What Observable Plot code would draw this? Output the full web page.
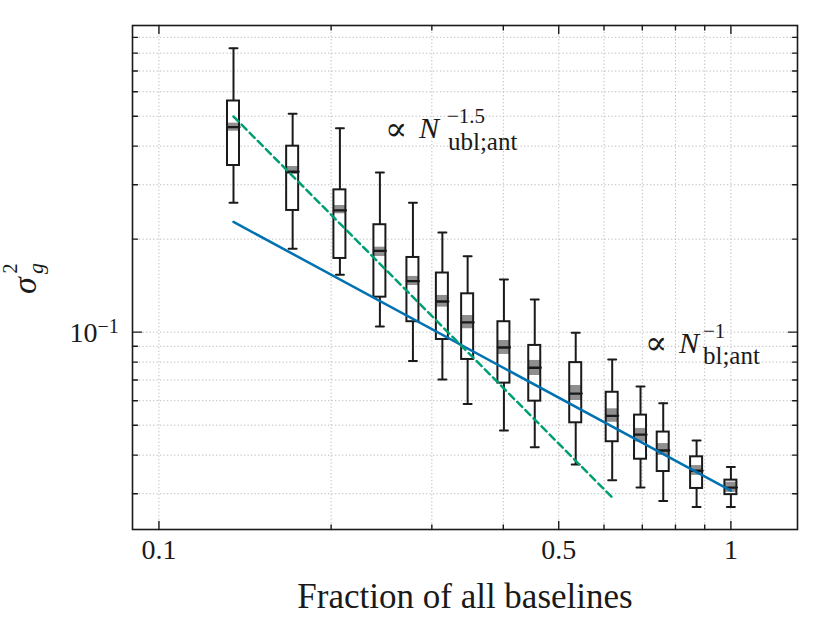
<!DOCTYPE html>
<html><head><meta charset="utf-8">
<script src="https://cdn.jsdelivr.net/npm/d3@7"></script>
<script src="https://cdn.jsdelivr.net/npm/@observablehq/plot@0.6"></script>
<style>body{margin:0;background:#fff}</style>
</head><body><div id="chart"></div>
<script>
// ---- data ----
const fraction  = [0.135, 0.1713, 0.2072, 0.2434, 0.278, 0.313, 0.3465, 0.401, 0.454, 0.5354, 0.6201, 0.695, 0.7615, 0.871, 1.0];
const whiskerHi = [0.830, 0.5095, 0.4572, 0.3287, 0.2623, 0.2102, 0.1761, 0.1481, 0.1276, 0.0996, 0.0816, 0.0667, 0.0589, 0.0446, 0.0366];
const boxHi     = [0.560, 0.3999, 0.2888, 0.2227, 0.1745, 0.1554, 0.1331, 0.1081, 0.0906, 0.0797, 0.0639, 0.0539, 0.0475, 0.0395, 0.0332];
const median    = [0.4607, 0.3305, 0.2477, 0.1834, 0.1462, 0.1257, 0.1075, 0.0892, 0.0767, 0.0633, 0.0536, 0.0466, 0.0414, 0.0356, 0.0314];
const boxLo     = [0.3463, 0.2477, 0.1732, 0.1298, 0.1081, 0.0947, 0.0816, 0.0684, 0.0598, 0.0509, 0.0442, 0.0388, 0.0354, 0.0312, 0.0298];
const whiskerLo = [0.2623, 0.1863, 0.1534, 0.1043, 0.0806, 0.0703, 0.0585, 0.0481, 0.0424, 0.0373, 0.0332, 0.0314, 0.0284, 0.0272, 0.0272];
const bandHi    = [0.4748, 0.3438, 0.2570, 0.1884, 0.1515, 0.1315, 0.1132, 0.0940, 0.0810, 0.0672, 0.0565, 0.0488, 0.0436, 0.0370, 0.0327];
const bandLo    = [0.4471, 0.3239, 0.2416, 0.1758, 0.1416, 0.1205, 0.1026, 0.0847, 0.0724, 0.0601, 0.0511, 0.0441, 0.0399, 0.0344, 0.0303];

const blueX  = [0.135, 1.0];
const blueY  = [0.2274, 0.0307];
const greenX = [0.135, 0.621];
const greenY = [0.4989, 0.0291];

const xMajor = [0.1, 0.5, 1];
const xMinor = [0.2, 0.3, 0.4, 0.6, 0.7, 0.8, 0.9];
const xTickLabels = ["0.1", "0.5", "1"];
const yMajor = [0.1];
const yMinor = [0.03, 0.04, 0.05, 0.06, 0.07, 0.08, 0.09, 0.2, 0.3, 0.4, 0.5, 0.6, 0.7, 0.8, 0.9];

// ---- build tables ----
const boxes = fraction.map((x, i) => ({
  x, whi: whiskerHi[i], bhi: boxHi[i], med: median[i], blo: boxLo[i], wlo: whiskerLo[i], ghi: bandHi[i], glo: bandLo[i]
}));
const blue = blueX.map((x, i) => ({x, y: blueY[i]}));
const green = greenX.map((x, i) => ({x, y: greenY[i]}));
const xGrid = [...xMajor, ...xMinor];
const yGrid = [...yMajor, ...yMinor];

const seg = {draw(ctx, l) { ctx.moveTo(0, 0); ctx.lineTo(0, -l); }};
const serif = "'Liberation Serif', 'DejaVu Serif', serif";
const ink = "#1a1a1a";
const half = -6;

function ticks(vals, dim, anchor, rotate, len) {
  const o = {frameAnchor: anchor, length: len, rotate, anchor: "start", shape: seg, stroke: ink, strokeWidth: 1.4};
  o[dim] = d => d;
  return Plot.vector(vals, o);
}
function txt(data, o) {
  return Plot.text(data, {fontFamily: serif, fill: ink, ...o});
}
const ann1 = [{x: 0.2484, y: 0.456}];
const ann2 = [{x: 0.7075, y: 0.0923}];

const chart = Plot.plot({
  width: 830, height: 623,
  marginLeft: 132, marginRight: 33, marginTop: 25, marginBottom: 94,
  x: {type: "log", domain: [0.0899, 1.3075], axis: null},
  y: {type: "log", domain: [0.02298, 0.983], axis: null},
  style: {fontFamily: serif, background: "white", color: ink},
  marks: [
    Plot.ruleX(xGrid, {x: d => d, stroke: "#bdbdbd", strokeWidth: 1, strokeDasharray: "1.3,2.2"}),
    Plot.ruleY(yGrid, {y: d => d, stroke: "#bdbdbd", strokeWidth: 1, strokeDasharray: "1.3,2.2"}),
    // whiskers
    Plot.ruleX(boxes, {x: "x", y1: "wlo", y2: "whi", stroke: ink, strokeWidth: 2}),
    Plot.vector(boxes, {x: "x", y: "whi", length: 8, rotate: 90, anchor: "middle", shape: seg, stroke: ink, strokeWidth: 2}),
    Plot.vector(boxes, {x: "x", y: "wlo", length: 8, rotate: 90, anchor: "middle", shape: seg, stroke: ink, strokeWidth: 2}),
    // box body
    Plot.rect(boxes, {x1: "x", x2: "x", y1: "blo", y2: "bhi", insetLeft: half, insetRight: half, fill: "white"}),
    Plot.rect(boxes, {x1: "x", x2: "x", y1: "glo", y2: "ghi", insetLeft: half, insetRight: half, fill: "#8f8f8f"}),
    Plot.vector(boxes, {x: "x", y: "med", length: 12, rotate: 90, anchor: "middle", shape: seg, stroke: ink, strokeWidth: 2.3}),
    Plot.rect(boxes, {x1: "x", x2: "x", y1: "blo", y2: "bhi", insetLeft: half, insetRight: half, fill: "none", stroke: ink, strokeWidth: 2}),
    // power-law guides
    Plot.line(blue, {x: "x", y: "y", stroke: "#0072B2", strokeWidth: 2.5}),
    Plot.line(green, {x: "x", y: "y", stroke: "#009E73", strokeWidth: 2.5, strokeDasharray: "7,4.5"}),
    // frame and inward ticks
    Plot.frame({stroke: ink, strokeWidth: 1.6}),
    ticks(xMajor, "x", "bottom", 0, 8),
    ticks(xMinor, "x", "bottom", 0, 4.5),
    ticks(xMajor, "x", "top", 180, 8),
    ticks(xMinor, "x", "top", 180, 4.5),
    ticks(yMajor, "y", "left", 90, 9),
    ticks(yMinor, "y", "left", 90, 5),
    ticks(yMajor, "y", "right", -90, 9),
    ticks(yMinor, "y", "right", -90, 5),
    // tick labels
    txt(xMajor, {x: d => d, text: (d, i) => xTickLabels[i], frameAnchor: "bottom", lineAnchor: "bottom", dy: 29, fontSize: 28}),
    txt(yMajor, {y: d => d, text: () => "10", frameAnchor: "left", textAnchor: "end", lineAnchor: "middle", dx: -35, dy: 1, fontSize: 28}),
    txt(yMajor, {y: d => d, text: () => "\u22121", frameAnchor: "left", textAnchor: "start", lineAnchor: "middle", dx: -35, dy: -6, fontSize: 20}),
    // axis labels
    txt(["Fraction of all baselines"], {text: d => d, frameAnchor: "bottom", lineAnchor: "bottom", dy: 78, fontSize: 35}),
    txt(["\u03c3"], {text: d => d, frameAnchor: "left", rotate: -90, textAnchor: "middle", lineAnchor: "bottom", dx: -97, dy: 8, fontSize: 34, fontStyle: "italic"}),
    txt(["2"], {text: d => d, frameAnchor: "left", rotate: -90, textAnchor: "middle", lineAnchor: "bottom", dx: -116, dy: -9, fontSize: 20}),
    txt(["g"], {text: d => d, frameAnchor: "left", rotate: -90, textAnchor: "middle", lineAnchor: "bottom", dx: -90, dy: -9, fontSize: 22, fontStyle: "italic"}),
    // annotations
    txt(ann1, {x: "x", y: "y", text: () => "\u221d", textAnchor: "start", lineAnchor: "middle", dy: 1, fontSize: 33, fontWeight: 300}),
    txt(ann1, {x: "x", y: "y", text: () => "N", textAnchor: "start", lineAnchor: "middle", dx: 34, fontSize: 30, fontStyle: "italic"}),
    txt(ann1, {x: "x", y: "y", text: () => "\u22121.5", textAnchor: "start", lineAnchor: "middle", dx: 62, dy: -12, fontSize: 21}),
    txt(ann1, {x: "x", y: "y", text: () => "ubl;ant", textAnchor: "start", lineAnchor: "middle", dx: 63, dy: 13, fontSize: 25}),
    txt(ann2, {x: "x", y: "y", text: () => "\u221d", textAnchor: "start", lineAnchor: "middle", dy: 1, fontSize: 33, fontWeight: 300}),
    txt(ann2, {x: "x", y: "y", text: () => "N", textAnchor: "start", lineAnchor: "middle", dx: 34, fontSize: 30, fontStyle: "italic"}),
    txt(ann2, {x: "x", y: "y", text: () => "\u22121", textAnchor: "start", lineAnchor: "middle", dx: 58, dy: -12, fontSize: 21}),
    txt(ann2, {x: "x", y: "y", text: () => "bl;ant", textAnchor: "start", lineAnchor: "middle", dx: 58, dy: 13, fontSize: 25})
  ]
});
document.getElementById("chart").appendChild(chart);
</script>
</body></html>
